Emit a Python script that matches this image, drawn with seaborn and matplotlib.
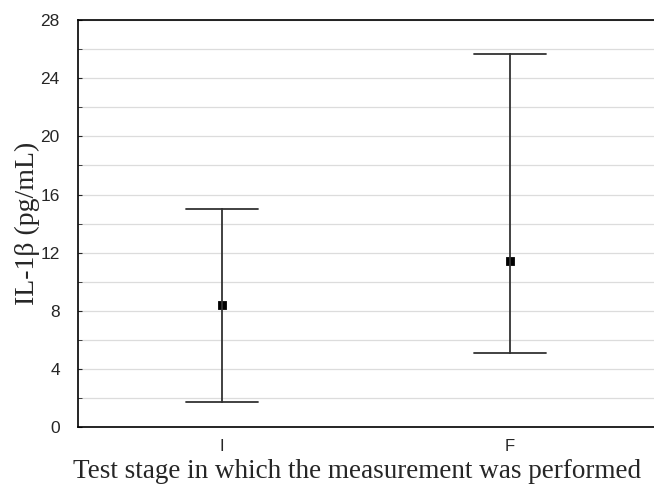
import matplotlib
matplotlib.use("Agg")
from matplotlib import pyplot as plt
from matplotlib.ticker import MultipleLocator
import pandas as pd
import seaborn as sns

# values: lower limit, mean, upper limit per test stage
stages = ["I", "F"]
lower = [1.7, 5.1]
means = [8.4, 11.45]
upper = [15.0, 25.65]

rows = []
for s, lo, m, hi in zip(stages, lower, means, upper):
    for v in (lo, m, hi):
        rows.append({"stage": s, "il1b": v})
df = pd.DataFrame(rows)

sns.set_style("white")
plt.rcParams["font.family"] = ["Liberation Sans", "DejaVu Sans"]

fig = plt.figure(figsize=(6.54, 4.93), dpi=100)
ax = fig.add_axes([0.119, 0.134, 0.881, 0.825])

sns.pointplot(data=df, x="stage", y="il1b", order=stages,
              estimator="median", errorbar=("pi", 100),
              linestyle="none", marker="s", markersize=4.5,
              color="black", capsize=0.25,
              err_kws={"linewidth": 1.3, "color": "#333333"}, ax=ax)

ax.set_xlim(-0.5, 1.5)
ax.set_ylim(0, 28)
ax.yaxis.set_major_locator(MultipleLocator(4))
ax.yaxis.set_minor_locator(MultipleLocator(2))
ax.grid(True, which="both", axis="y", color="#dcdcdc", linewidth=0.9)
ax.set_axisbelow(True)

for side in ["left", "bottom", "top"]:
    ax.spines[side].set_visible(True)
    ax.spines[side].set_color("black")
    ax.spines[side].set_linewidth(1.2)
ax.spines["right"].set_visible(False)

ax.tick_params(axis="y", which="major", left=True, direction="in", length=3,
               labelsize=12.5, pad=13)
ax.tick_params(axis="y", which="minor", left=True, direction="in", length=3)
ax.tick_params(axis="x", bottom=False, labelsize=12, pad=5)

serif = ["Liberation Serif", "DejaVu Serif"]
ax.set_ylabel("IL-1β (pg/mL)", family=serif, fontsize=20)
ax.set_xlabel("Test stage in which the measurement was performed",
              family=serif, fontsize=19.5)
ax.yaxis.set_label_coords(-0.065, 0.5)
ax.xaxis.set_label_coords(0.485, -0.08)

fig.savefig("out.png", dpi=100)
